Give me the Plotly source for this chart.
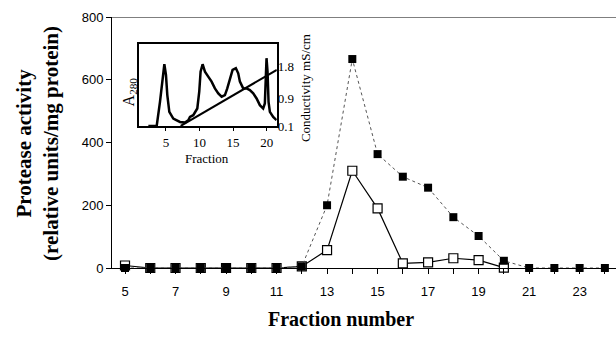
import plotly.graph_objects as go

# ---- main chart data ----
fractions = list(range(5, 25))
total_activity = [0, 0, 0, 0, 0, 0, 0, 5, 200, 666, 363, 291, 256, 162, 102, 23, 0, 0, 0, 0]  # filled squares
open_fractions = list(range(5, 21))
specific_activity = [8, 0, 0, 0, 0, 0, 0, 5, 57, 310, 190, 15, 18, 31, 25, 1]  # open squares

x_tick_vals = list(range(5, 25, 2))
y_tick_vals = [0, 200, 400, 600, 800]

# ---- inset data ----
inset_fraction = [2.39, 3.63, 4.12, 4.52, 4.77, 5.01, 5.21, 5.51, 6.1, 7.09, 7.83, 8.33, 8.58, 9.07,
                  9.67, 9.96, 10.16, 10.46, 10.81, 11.3, 11.8, 12.29, 12.79, 13.29, 13.78, 14.13,
                  14.52, 14.92, 15.41, 15.76, 16.01, 16.5, 17.0, 17.49, 17.99, 18.49, 18.98, 19.47,
                  19.72, 19.87, 19.97, 20.12, 20.27, 20.47, 20.96, 21.46]
inset_a280 = [0.0, 0.0, 0.295, 0.623, 0.754, 0.623, 0.377, 0.172, 0.09, 0.049, 0.041, 0.07, 0.11, 0.131,
              0.213, 0.418, 0.664, 0.754, 0.664, 0.602, 0.541, 0.459, 0.398, 0.357, 0.377, 0.459,
              0.582, 0.684, 0.705, 0.643, 0.541, 0.459, 0.459, 0.439, 0.398, 0.336, 0.254, 0.213,
              0.275, 0.623, 0.828, 0.664, 0.295, 0.172, 0.11, 0.07]
cond_fraction = [7.2, 21.5]
cond_values = [0.1, 1.71]
inset_x_ticks = [5, 10, 15, 20]
cond_ticks = [0.1, 0.9, 1.8]

SERIF = "Liberation Serif"
SANS = "Liberation Sans"

fig = go.Figure()

fig.add_trace(go.Scatter(
    x=open_fractions, y=specific_activity, mode="lines+markers",
    line=dict(color="black", width=1.2),
    marker=dict(symbol="square", size=9, color="white", line=dict(color="black", width=1.2)),
    cliponaxis=False, showlegend=False))
fig.add_trace(go.Scatter(
    x=fractions, y=total_activity, mode="lines+markers",
    line=dict(color="#555", width=1, dash="dot"),
    marker=dict(symbol="square", size=8, color="black"),
    cliponaxis=False, showlegend=False))

fig.add_trace(go.Scatter(
    x=inset_fraction, y=inset_a280, mode="lines", xaxis="x2", yaxis="y2",
    line=dict(color="black", width=2.5), showlegend=False))
fig.add_trace(go.Scatter(
    x=cond_fraction, y=cond_values, mode="lines", xaxis="x2", yaxis="y3",
    line=dict(color="black", width=2), showlegend=False))

fig.update_layout(
    width=616, height=337,
    margin=dict(l=112, r=0, t=17, b=69),
    paper_bgcolor="white", plot_bgcolor="white",
    xaxis=dict(range=[4.485, 24.44], domain=[0, 1], showline=True, linecolor="black", linewidth=1,
               ticks="outside", ticklen=5, tickcolor="black", tickvals=x_tick_vals,
               minor=dict(tickvals=list(range(6, 25, 2)), ticks="outside", ticklen=5, tickcolor="black",
                          showgrid=False),
               tickfont=dict(family=SANS, size=13, color="black"), showgrid=False, zeroline=False,
               ticklabelstandoff=6),
    yaxis=dict(range=[0, 800], domain=[0, 1], showline=True, linecolor="black", linewidth=1,
               ticks="outside", ticklen=5, tickcolor="black", tickvals=y_tick_vals,
               tickfont=dict(family=SANS, size=13, color="black"), showgrid=False, zeroline=False),
    xaxis2=dict(domain=[0.0536, 0.327], anchor="y2", range=[1, 21.5], showline=True, mirror=True,
                linecolor="black", linewidth=2, ticks="outside", ticklen=3, tickcolor="black",
                tickvals=inset_x_ticks, tickfont=dict(family=SERIF, size=13, color="black"),
                showgrid=False, zeroline=False),
    yaxis2=dict(domain=[0.566, 0.892], anchor="x2", range=[0, 1], showline=True, mirror=True,
                linecolor="black", linewidth=2, showticklabels=False, ticks="",
                showgrid=False, zeroline=False),
    yaxis3=dict(overlaying="y2", anchor="x2", side="right", range=[0.1, 2.45], showline=False,
                tickvals=cond_ticks, ticks="", tickfont=dict(family=SERIF, size=13, color="black"),
                showgrid=False, zeroline=False),
    shapes=[dict(type="line", xref="paper", yref="y", x0=0, x1=1, y0=800, y1=800,
                 line=dict(color="black", width=1))],
    annotations=[
        dict(text="Protease activity<br>(relative units/mg protein)", xref="paper", yref="paper",
             x=-0.149, y=0.498, xanchor="center", yanchor="middle", textangle=-90, showarrow=False,
             font=dict(family=SERIF, size=21, color="black", weight="bold")),
        dict(text="Fraction number", xref="paper", yref="paper", x=0.454, y=-0.203,
             xanchor="center", yanchor="middle", showarrow=False,
             font=dict(family=SERIF, size=20, color="black", weight="bold")),
        dict(text="A<sub>280</sub>", xref="paper", yref="paper", x=0.034, y=0.70,
             xanchor="center", yanchor="middle", textangle=-90, showarrow=False,
             font=dict(family=SERIF, size=16, color="black")),
        dict(text="Fraction", xref="paper", yref="paper", x=0.188, y=0.438,
             xanchor="center", yanchor="middle", showarrow=False,
             font=dict(family=SERIF, size=13, color="black")),
        dict(text="Conductivity mS/cm", xref="paper", yref="paper", x=0.383, y=0.717,
             xanchor="center", yanchor="middle", textangle=-90, showarrow=False,
             font=dict(family=SERIF, size=13, color="black")),
    ],
)

fig.write_html("out.html")
